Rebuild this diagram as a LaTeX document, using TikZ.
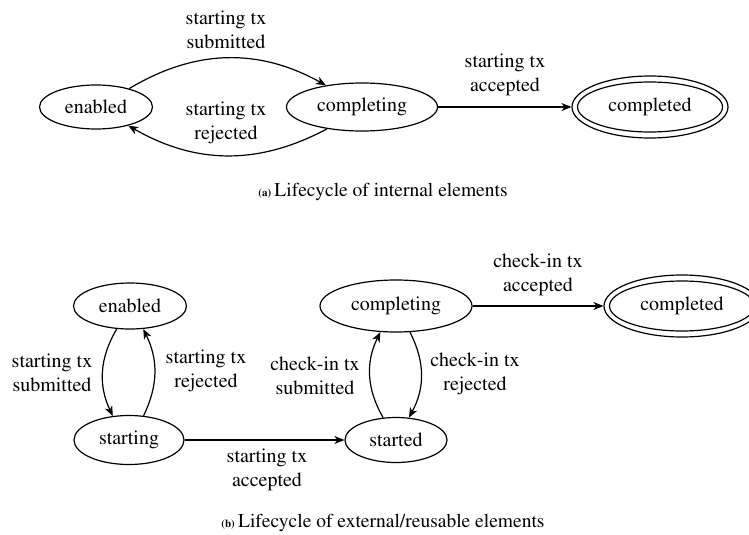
\documentclass[tikz,border=0pt]{standalone}
\usepackage[T1]{fontenc}
\usepackage{mathptmx}
\usetikzlibrary{shapes.geometric,arrows.meta}
\tikzset{
  state/.style={draw, ellipse, line width=1.2pt, inner sep=0pt, font=\fontsize{20}{24}\selectfont},
  lbl/.style={align=center, inner sep=0pt, font=\fontsize{20}{24}\selectfont},
  captext/.style={inner sep=0pt, font=\fontsize{19.5}{23}\selectfont},
  arr/.style={line width=1.2pt, -{Stealth[length=10pt,width=8pt,inset=3pt]}},
}
\newcommand{\subcap}[1]{{\fontsize{11}{13}\selectfont\bfseries (#1)}}
\begin{document}
\begin{tikzpicture}[x=1pt,y=1pt]
\useasboundingbox (0,0) rectangle (749,-535);
% ---------- (a)
\node[state, minimum width=113, minimum height=44] (ea) at (96,-107) {enabled};
\node[state, minimum width=151, minimum height=48] (ca) at (362,-107) {completing};
\node[state, minimum width=156, minimum height=62] (da) at (650,-107) {completed};
\draw[line width=1.2pt] (da.center) ellipse (72.5 and 25);
\draw[arr] (ea.29) to[bend left=30] (ca.149);
\draw[arr] (ca.-148) to[bend left=29] (ea.-30);
\draw[arr] (ca.east) -- (da.west);
\node[lbl] (la1) at (226,-30) {starting tx\\submitted};
\node[lbl] (la2) at (226,-123) {starting tx\\rejected};
\node[lbl] (la3) at (505,-75) {starting tx\\accepted};
\node[captext] (capa) at (383,-192) {\subcap{a}\,Lifecycle of internal elements};
% ---------- (b)
\node[state, minimum width=113, minimum height=46] (eb) at (130,-306) {enabled};
\node[state, minimum width=110, minimum height=49] (sb) at (129,-440) {starting};
\node[state, minimum width=102, minimum height=45] (tb) at (396,-440) {started};
\node[state, minimum width=152, minimum height=52] (cb) at (396,-306) {completing};
\node[state, minimum width=156, minimum height=62] (db) at (682,-306) {completed};
\draw[line width=1.2pt] (db.center) ellipse (72.5 and 25);
\draw[arr] (eb.240) to[bend right=28] (sb.124);
\draw[arr] (sb.59) to[bend right=26] (eb.-60);
\draw[arr] (sb.east) -- (tb.west);
\draw[arr] (tb.120) to[bend left=28] (cb.-121);
\draw[arr] (cb.-62) to[bend left=28] (tb.60);
\draw[arr] (cb.east) -- (db.west);
\node[lbl] (lb1) at (52,-373) {starting tx\\submitted};
\node[lbl] (lb2) at (206,-371) {starting tx\\rejected};
\node[lbl] (lb3) at (315,-376) {check-in tx\\submitted};
\node[lbl] (lb4) at (475,-374) {check-in tx\\rejected};
\node[lbl] (lb5) at (267,-470) {starting tx\\accepted};
\node[lbl] (lb6) at (538,-275) {check-in tx\\accepted};
\node[captext] (capb) at (383,-523) {\subcap{b}\,Lifecycle of external/reusable elements};
\end{tikzpicture}
\end{document}
